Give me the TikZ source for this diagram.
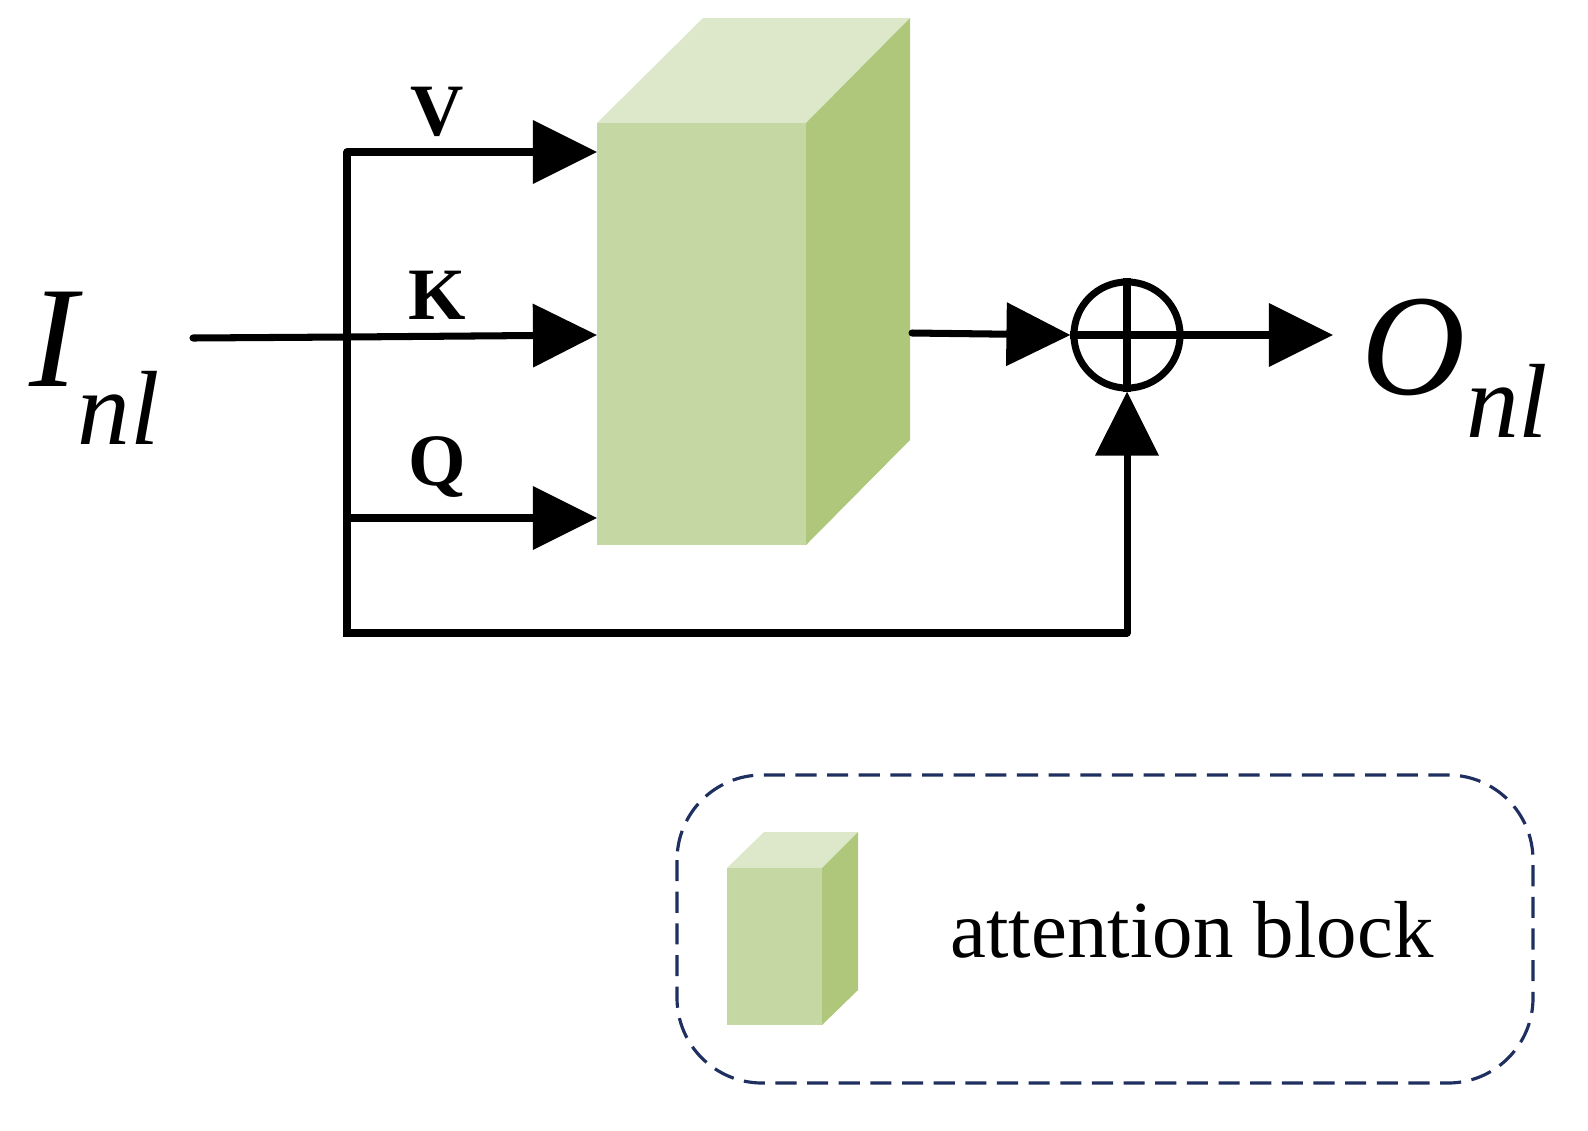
\documentclass[tikz,border=0pt]{standalone}
\usepackage{fontspec}
\setmainfont{Liberation Serif}
\usetikzlibrary{arrows.meta}
\definecolor{gfront}{HTML}{C5D7A2}
\definecolor{gtop}{HTML}{DDE8CB}
\definecolor{gside}{HTML}{AFC77B}
\definecolor{navy}{HTML}{1F2F5F}
\begin{document}
\begin{tikzpicture}[x=0.01cm,y=-0.01cm,
  ln/.style={line width=2pt,line cap=round},
  arr/.style={ln,-{Triangle[length=0.64cm,width=0.62cm]}},
  lab/.style={font=\fontsize{21}{24}\selectfont\bfseries},
  blk/.style={draw=none}]
\useasboundingbox (0,0) rectangle (1588,1130);
% main block
\fill[gtop] (597,123) -- (703,18) -- (910,18) -- (806,123) -- cycle;
\fill[gside] (806,123) -- (910,18) -- (910,440) -- (806,545) -- cycle;
\fill[gfront] (597,123) rectangle (806,545);
\node[blk,minimum width=2.09cm,minimum height=4.22cm,inner sep=0] (blk) at (701.5,334) {};
\coordinate (vin) at (597,152);
\coordinate (kin) at (597,335);
\coordinate (qin) at (597,518);
\coordinate (bout) at (912,333);
% input
\coordinate (i0) at (193,338);
\coordinate (j1) at (347,152);
\coordinate (j2) at (347,518);
\coordinate (j3) at (347,633);
\coordinate (j4) at (1127,633);
\draw[ln] (i0) -- (347,337);
\draw[arr] (347,337) -- (kin);
\draw[ln] (j1) -- (j3) -- (j4);
\draw[arr] (j1) -- (vin);
\draw[arr] (j2) -- (qin);
\node[lab] (V) at (437,112) {V};
\node[lab] (K) at (437,295) {K};
\node[lab] (Q) at (437,467) {Q};
% sum
\node[circle,draw,line width=2pt,minimum size=1.06cm,inner sep=0] (sum) at (1127,335) {};
\draw[line width=2.4pt] (sum.north) -- (sum.south);
\draw[line width=2.4pt] (sum.west) -- (sum.east);
\draw[arr] (bout) -- (sum.west);
\draw[arr] (j4) -- (sum.south);
\coordinate (oend) at (1333,335);
\draw[arr] (sum.east) -- (oend);
\node (I) at (95,368) {\fontsize{41}{45}\selectfont\itshape I\raisebox{-0.4em}{\fontsize{30}{32}\selectfont nl}};
\node (O) at (1455,368) {\fontsize{41}{45}\selectfont\itshape O\raisebox{-0.3em}{\fontsize{30}{32}\selectfont nl}};
% legend
\draw[navy,dash pattern=on 6pt off 3pt,line width=0.9pt,rounded corners=0.85cm] (677,775) rectangle (1533,1083);
\fill[gtop] (727,868) -- (764,832) -- (858,832) -- (822,868) -- cycle;
\fill[gside] (822,868) -- (858,832) -- (858,990) -- (822,1025) -- cycle;
\fill[gfront] (727,868) rectangle (822,1025);
\node (lt) at (1192,930) {\fontsize{23}{26}\selectfont attention block};
\end{tikzpicture}
\end{document}
